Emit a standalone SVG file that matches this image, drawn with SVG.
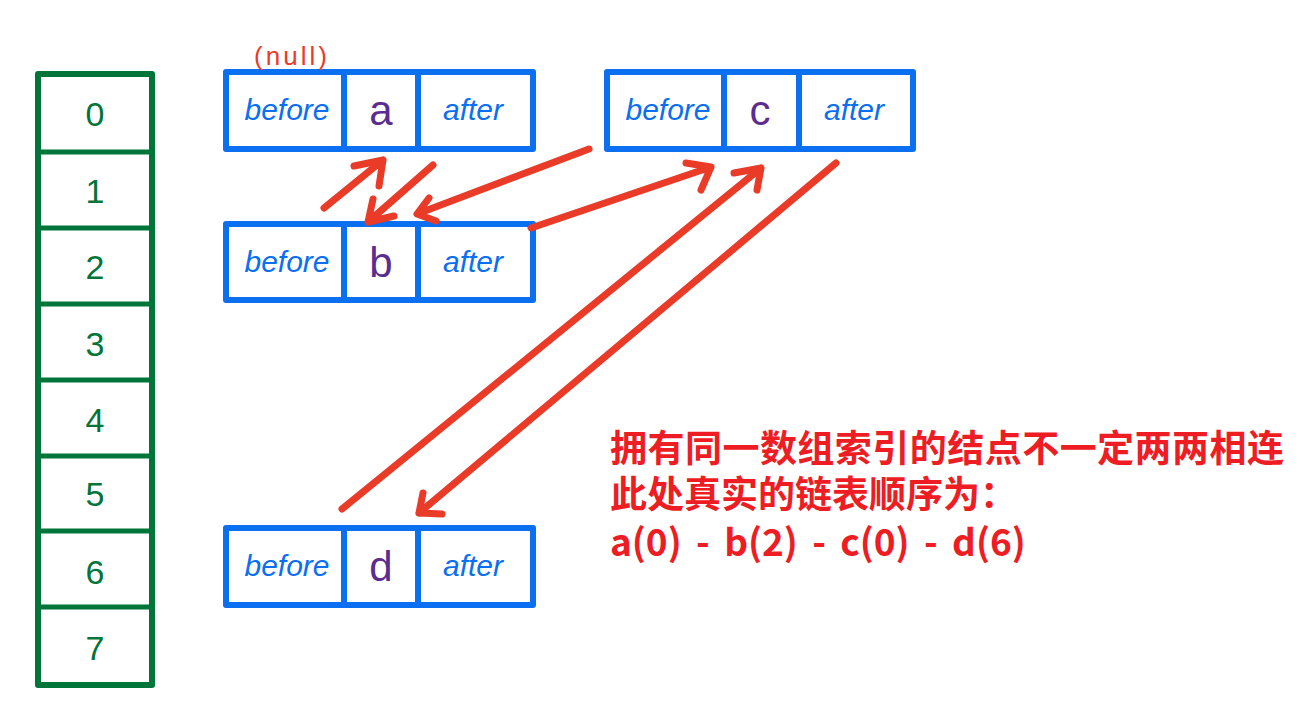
<svg xmlns="http://www.w3.org/2000/svg" width="1301" height="717" viewBox="0 0 1301 717">
<style>
.arr{fill:none;stroke:#00753a;stroke-width:6;stroke-linejoin:round}
.sep{stroke:#00753a;stroke-width:5}
.idx{font-family:"Liberation Sans","DejaVu Sans",sans-serif;font-size:34px;fill:#00753a;text-anchor:middle}
.box{fill:#fff;stroke:#0a6ff0;stroke-width:6;stroke-linejoin:round}
.div{stroke:#0a6ff0;stroke-width:6}
.fld{font-family:"Liberation Sans","DejaVu Sans",sans-serif;font-size:30px;fill:#0a6ff0;text-anchor:middle;font-style:italic}
.val{font-family:"Liberation Sans","DejaVu Sans",sans-serif;font-size:42px;fill:#5b2d90;text-anchor:middle}
.lk{fill:none;stroke:#ea3a28;stroke-width:7;stroke-linecap:round;stroke-linejoin:round}
.note{font-family:"Noto Sans CJK SC","Noto Sans",sans-serif;font-size:37px;font-weight:bold;fill:#ee1d24}
</style>
<g id="array">
<rect class="arr" x="38" y="74" width="114" height="611"/>
<line class="sep" x1="38" y1="152" x2="152" y2="152"/>
<line class="sep" x1="38" y1="228" x2="152" y2="228"/>
<line class="sep" x1="38" y1="304" x2="152" y2="304"/>
<line class="sep" x1="38" y1="380" x2="152" y2="380"/>
<line class="sep" x1="38" y1="456" x2="152" y2="456"/>
<line class="sep" x1="38" y1="531" x2="152" y2="531"/>
<line class="sep" x1="38" y1="607" x2="152" y2="607"/>
<text class="idx" x="95" y="126">0</text>
<text class="idx" x="95" y="203">1</text>
<text class="idx" x="95" y="279">2</text>
<text class="idx" x="95" y="356">3</text>
<text class="idx" x="95" y="432">4</text>
<text class="idx" x="95" y="506">5</text>
<text class="idx" x="95" y="584">6</text>
<text class="idx" x="95" y="660">7</text>
</g>
<g id="node-a">
<rect class="box" x="226" y="72" width="307" height="77"/>
<line class="div" x1="344" y1="72" x2="344" y2="149"/>
<line class="div" x1="418" y1="72" x2="418" y2="149"/>
<text class="fld" x="287" y="120">before</text>
<text class="val" x="381" y="125">a</text>
<text class="fld" x="473" y="120">after</text>
<text x="292" y="65" font-family="Liberation Sans, sans-serif" font-size="26" letter-spacing="3" fill="#ea3a28" text-anchor="middle">(null)</text>
</g>
<g id="node-b">
<rect class="box" x="226" y="224" width="307" height="76"/>
<line class="div" x1="344" y1="224" x2="344" y2="300"/>
<line class="div" x1="418" y1="224" x2="418" y2="300"/>
<text class="fld" x="287" y="272">before</text>
<text class="val" x="381" y="277">b</text>
<text class="fld" x="473" y="272">after</text>
</g>
<g id="node-c">
<rect class="box" x="607" y="72" width="306" height="77"/>
<line class="div" x1="724" y1="72" x2="724" y2="149"/>
<line class="div" x1="799" y1="72" x2="799" y2="149"/>
<text class="fld" x="668" y="120">before</text>
<text class="val" x="760" y="125">c</text>
<text class="fld" x="854" y="120">after</text>
</g>
<g id="node-d">
<rect class="box" x="226" y="528" width="307" height="77"/>
<line class="div" x1="344" y1="528" x2="344" y2="605"/>
<line class="div" x1="418" y1="528" x2="418" y2="605"/>
<text class="fld" x="287" y="576">before</text>
<text class="val" x="381" y="581">d</text>
<text class="fld" x="473" y="576">after</text>
</g>
<g id="connectors">
<path class="lk" d="M324,208 L383,160 M354,166 L383,160 L379,186"/>
<path class="lk" d="M433,165 L368,222 M373,199 L368,222 L394,216"/>
<path class="lk" d="M589,149 L417,214 M429,198 L417,214 L436,221"/>
<path class="lk" d="M531,228 L711,167 M686,163 L711,167 L701,190"/>
<path class="lk" d="M342,509 L761,168 M734,173 L761,168 L757,190"/>
<path class="lk" d="M836,163 L419,513 M423,493 L419,513 L442,514"/>
</g>
<g id="note">
<text class="note" x="610" y="462" textLength="674" lengthAdjust="spacing">拥有同一数组索引的结点不一定两两相连</text>
<text class="note" x="610" y="508">此处真实的链表顺序为：</text>
<text class="note" x="610" y="556" word-spacing="6">a(0) - b(2) - c(0) - d(6)</text>
</g>
</svg>
